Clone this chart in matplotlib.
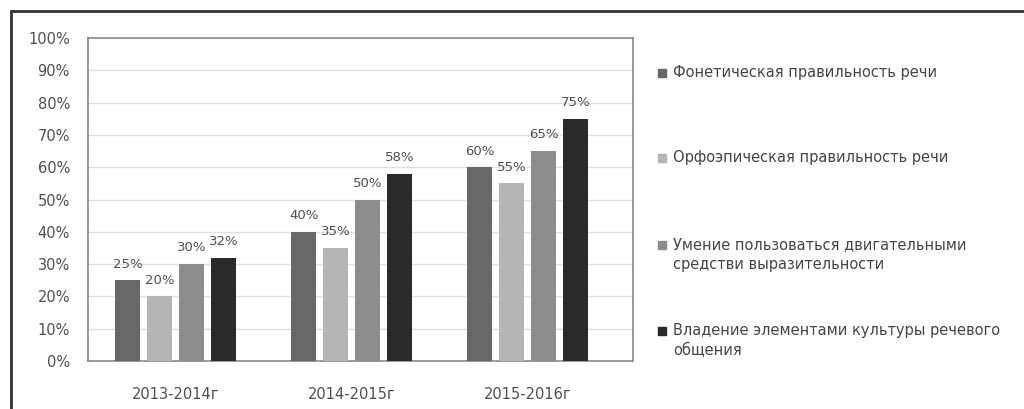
import matplotlib.pyplot as plt
import numpy as np
from matplotlib.patches import Rectangle

plt.rcParams['font.family'] = ['DejaVu Sans']

years = ["2013-2014г", "2014-2015г", "2015-2016г"]
series_names = ["Фонетическая правильность речи",
                "Орфоэпическая правильность речи",
                "Умение пользоваться двигательными\nсредстви выразительности",
                "Владение элементами культуры речевого\nобщения"]
phonetic = [25, 40, 60]
orthoepic = [20, 35, 55]
motor = [30, 50, 65]
culture = [32, 58, 75]
values = [phonetic, orthoepic, motor, culture]
colors = ["#686868", "#b5b5b5", "#8c8c8c", "#2a2a2a"]

fig = plt.figure(figsize=(10.24, 4.09), dpi=100)
ax = fig.add_axes([88/1024, 1-361/409, 545/1024, 323/409])

x = np.arange(len(years))
w = 0.142
step = 0.182
for i, vals in enumerate(values):
    pos = x + (i - 1.5) * step
    ax.bar(pos, vals, width=w, color=colors[i], zorder=3)
    for p, v in zip(pos, vals):
        ax.text(p, v + 3, f"{v}%", ha='center', va='bottom', fontsize=9.5,
                color='#505050')

ax.set_xlim(-0.5, 2.6)
ax.set_ylim(0, 100)
ax.set_yticks(range(0, 101, 10))
ax.set_yticklabels([f"{t}%" for t in range(0, 101, 10)])
ax.set_xticks(x)
ax.set_xticklabels(years)
ax.tick_params(axis='both', length=0, labelsize=10.5, colors='#505050')
ax.tick_params(axis='y', pad=13)
ax.tick_params(axis='x', pad=19)
ax.grid(axis='y', color='#e0e0e0', linewidth=1, zorder=0)
for s in ax.spines.values():
    s.set_color('#8a8a8a')
    s.set_linewidth(1.2)

# legend drawn by hand
leg_y = [73, 158, 245, 331]
for i, name in enumerate(series_names):
    yy = 1 - leg_y[i] / 409
    fig.patches.append(Rectangle((658/1024, yy - 4/409), 8/1024, 8/409,
                                 transform=fig.transFigure, color=colors[i]))
    fig.text(673/1024, yy + 8/409, name, va='top',
             fontsize=10.5, color='#454545', linespacing=1.45,
             transform=fig.transFigure)

# outer frame
fig.patches.append(Rectangle((11/1024, -0.05), 1.2, 1 - 11/409 + 0.05,
                             transform=fig.transFigure, fill=False,
                             edgecolor='#333333', linewidth=2))

fig.savefig("out.png", dpi=100)
